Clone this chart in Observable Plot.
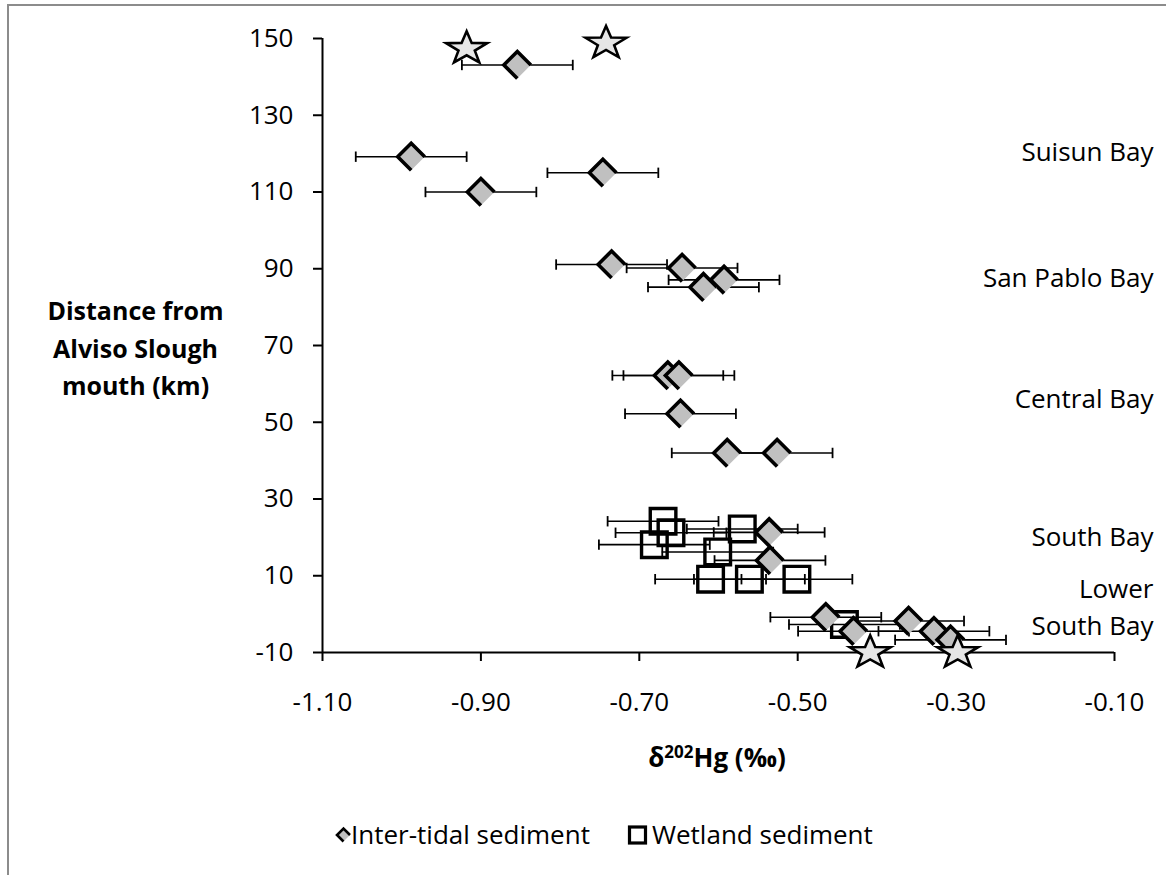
<!DOCTYPE html>
<html>
<head>
<meta charset="utf-8">
<script src="https://cdn.jsdelivr.net/npm/d3@7"></script>
<script src="https://cdn.jsdelivr.net/npm/@observablehq/plot@0.6"></script>
<style>
  html, body { margin: 0; padding: 0; background: #fff; }
  body { width: 1166px; height: 875px; position: relative; overflow: hidden; font-family: "Open Sans", sans-serif; }
  #border { position: absolute; left: 7px; top: 4px; width: 1159px; height: 871px; box-sizing: border-box;
            border-top: 2px solid #8c8c8c; border-left: 2px solid #8c8c8c; }
  #chart { position: absolute; left: 0; top: 0; }
  #below { position: absolute; left: 0; top: 720px; }
</style>
</head>
<body>
<div id="border"></div>
<div id="chart"></div>
<svg id="below" width="1166" height="155" font-family="Open Sans, sans-serif">
  <text x="717" y="47" text-anchor="middle" font-size="26" font-weight="bold">δ<tspan dy="-9" font-size="17">202</tspan><tspan dy="9">Hg (‰)</tspan></text>
  <path d="M350,115 L343.5,108.5 L337,115 L343.5,121.5" fill="#c0c0c0" stroke="#000" stroke-width="2.6" stroke-linejoin="miter"/>
  <text x="351" y="124" font-size="26">Inter-tidal sediment</text>
  <rect x="629.5" y="107" width="16" height="16" fill="none" stroke="#000" stroke-width="3.2"/>
  <text x="652" y="124" font-size="26">Wetland sediment</text>
</svg>
<script>
// ---- Data ----
// Inter-tidal sediment (diamonds): δ202Hg (‰), distance (km), error (±‰)
const interX   = [-0.854, -0.988, -0.746, -0.900, -0.735, -0.646, -0.593, -0.619, -0.664, -0.650, -0.648, -0.589, -0.526, -0.536, -0.535, -0.4645, -0.4295, -0.360, -0.328, -0.307];
const interY   = [143.1, 119.2, 115.0, 110.0, 91.1, 90.2, 87.1, 85.2, 62.2, 62.2, 52.2, 42.0, 42.0, 21.3, 14.0, -0.8, -4.45, -1.8, -4.45, -6.7];
const interErr = [0.07, 0.07, 0.07, 0.07, 0.07, 0.07, 0.07, 0.07, 0.07, 0.07, 0.07, 0.07, 0.07, 0.07, 0.07, 0.07, 0.07, 0.07, 0.07, 0.07];

// Wetland sediment (open squares)
const wetX   = [-0.670, -0.660, -0.570, -0.681, -0.601, -0.610, -0.561, -0.501, -0.441];
const wetY   = [24.2, 21.2, 22.2, 18.1, 16.2, 9.1, 9.1, 9.1, -2.7];
const wetErr = [0.07, 0.07, 0.07, 0.07, 0.07, 0.07, 0.07, 0.07, 0.07];

// End-member stars (no error bars)
const starX = [-0.918, -0.742, -0.4085, -0.298];
const starY = [147.4, 148.8, -10, -10];

// Region annotations on the right
const regionNames = ["Suisun Bay", "San Pablo Bay", "Central Bay", "South Bay", "Lower", "South Bay"];
const regionY     = [120.3, 87.5, 56.0, 20.0, 6.3, -3.2];

// Axis ticks
const xTicks = [-1.10, -0.90, -0.70, -0.50, -0.30, -0.10];
const yTicks = [-10, 10, 30, 50, 70, 90, 110, 130, 150];

// ---- Build tables ----
const inter = interX.map((x, i) => ({x, y: interY[i], e: interErr[i]}));
const wet   = wetX.map((x, i) => ({x, y: wetY[i], e: wetErr[i]}));
const stars = starX.map((x, i) => ({x, y: starY[i]}));
const regions = regionNames.map((name, i) => ({name, y: regionY[i]}));
const withErr = wet.concat(inter);

// ---- Custom symbols ----
const rOf = size => Math.sqrt(size / Math.PI);
const capSymbol = { draw(ctx, size) { const h = rOf(size); ctx.moveTo(0, -h); ctx.lineTo(0, h); } };
const diamondSymbol = { draw(ctx, size) { const r = rOf(size); ctx.moveTo(r, 0); ctx.lineTo(0, -r); ctx.lineTo(-r, 0); ctx.lineTo(0, r); } };
const squareSymbol = { draw(ctx, size) { const r = rOf(size); ctx.rect(-r, -r, 2 * r, 2 * r); } };
const starSymbol = { draw(ctx, size) {
  const R = rOf(size), ry = 0.8, k = 0.4;
  for (let i = 0; i < 10; i++) {
    const a = -Math.PI / 2 + i * Math.PI / 5;
    const rr = i % 2 ? k : 1;
    const px = Math.cos(a) * R * rr, py = Math.sin(a) * R * rr * ry;
    if (i) ctx.lineTo(px, py); else ctx.moveTo(px, py);
  }
  ctx.closePath();
} };

const plot = Plot.plot({
  width: 1166,
  height: 720,
  marginLeft: 322,
  marginRight: 52,
  marginTop: 38,
  marginBottom: 68,
  style: { fontFamily: "Open Sans, sans-serif", fontSize: "26px", color: "#000", background: "transparent" },
  x: { domain: [-1.10, -0.10] },
  y: { domain: [-10, 150] },
  marks: [
    Plot.axisY({ ticks: yTicks, tickSize: 9, tickPadding: 20, tickFormat: d => String(d), strokeWidth: 2, label: null, fontSize: 26 }),
    Plot.axisX({ ticks: xTicks, tickSize: 9, tickPadding: 31, tickFormat: d => d.toFixed(2), strokeWidth: 2, label: null, fontSize: 26 }),
    Plot.ruleX([-1.10], { stroke: "#000", strokeWidth: 2 }),
    Plot.ruleY([-10], { stroke: "#000", strokeWidth: 2 }),
    // error bars
    Plot.ruleY(withErr, { y: "y", x1: d => d.x - d.e, x2: d => d.x + d.e, stroke: "#000", strokeWidth: 1.6 }),
    Plot.dot(withErr, { x: d => d.x - d.e, y: "y", r: 5.2, symbol: capSymbol, stroke: "#000", strokeWidth: 1.8, fill: "none" }),
    Plot.dot(withErr, { x: d => d.x + d.e, y: "y", r: 5.2, symbol: capSymbol, stroke: "#000", strokeWidth: 1.8, fill: "none" }),
    // wetland squares
    Plot.dot(wet, { x: "x", y: "y", r: 12.8, symbol: squareSymbol, fill: "none", stroke: "#000", strokeWidth: 3.4 }),
    // inter-tidal diamonds
    Plot.dot(inter, { x: "x", y: "y", r: 13.5, symbol: diamondSymbol, fill: "#c0c0c0", stroke: "#000", strokeWidth: 3.6, strokeLinejoin: "miter" }),
    // stars
    Plot.dot(stars, { x: "x", y: "y", r: 21.5, symbol: starSymbol, fill: "#e6e6e6", stroke: "#000", strokeWidth: 2.6, strokeLinejoin: "miter" }),
    // region labels
    Plot.text(regions, { x: () => -0.10, y: "y", text: "name", dx: 39, textAnchor: "end", fontSize: 26, fill: "#000" }),
    // y axis title
    Plot.text(["Distance from\nAlviso Slough\nmouth (km)"], { text: d => d, frameAnchor: "left", dx: -187, dy: 0, textAnchor: "middle", fontWeight: "bold", fontSize: 25, lineHeight: 1.5, fill: "#000" })
  ]
});
document.getElementById("chart").appendChild(plot);
</script>
</body>
</html>
